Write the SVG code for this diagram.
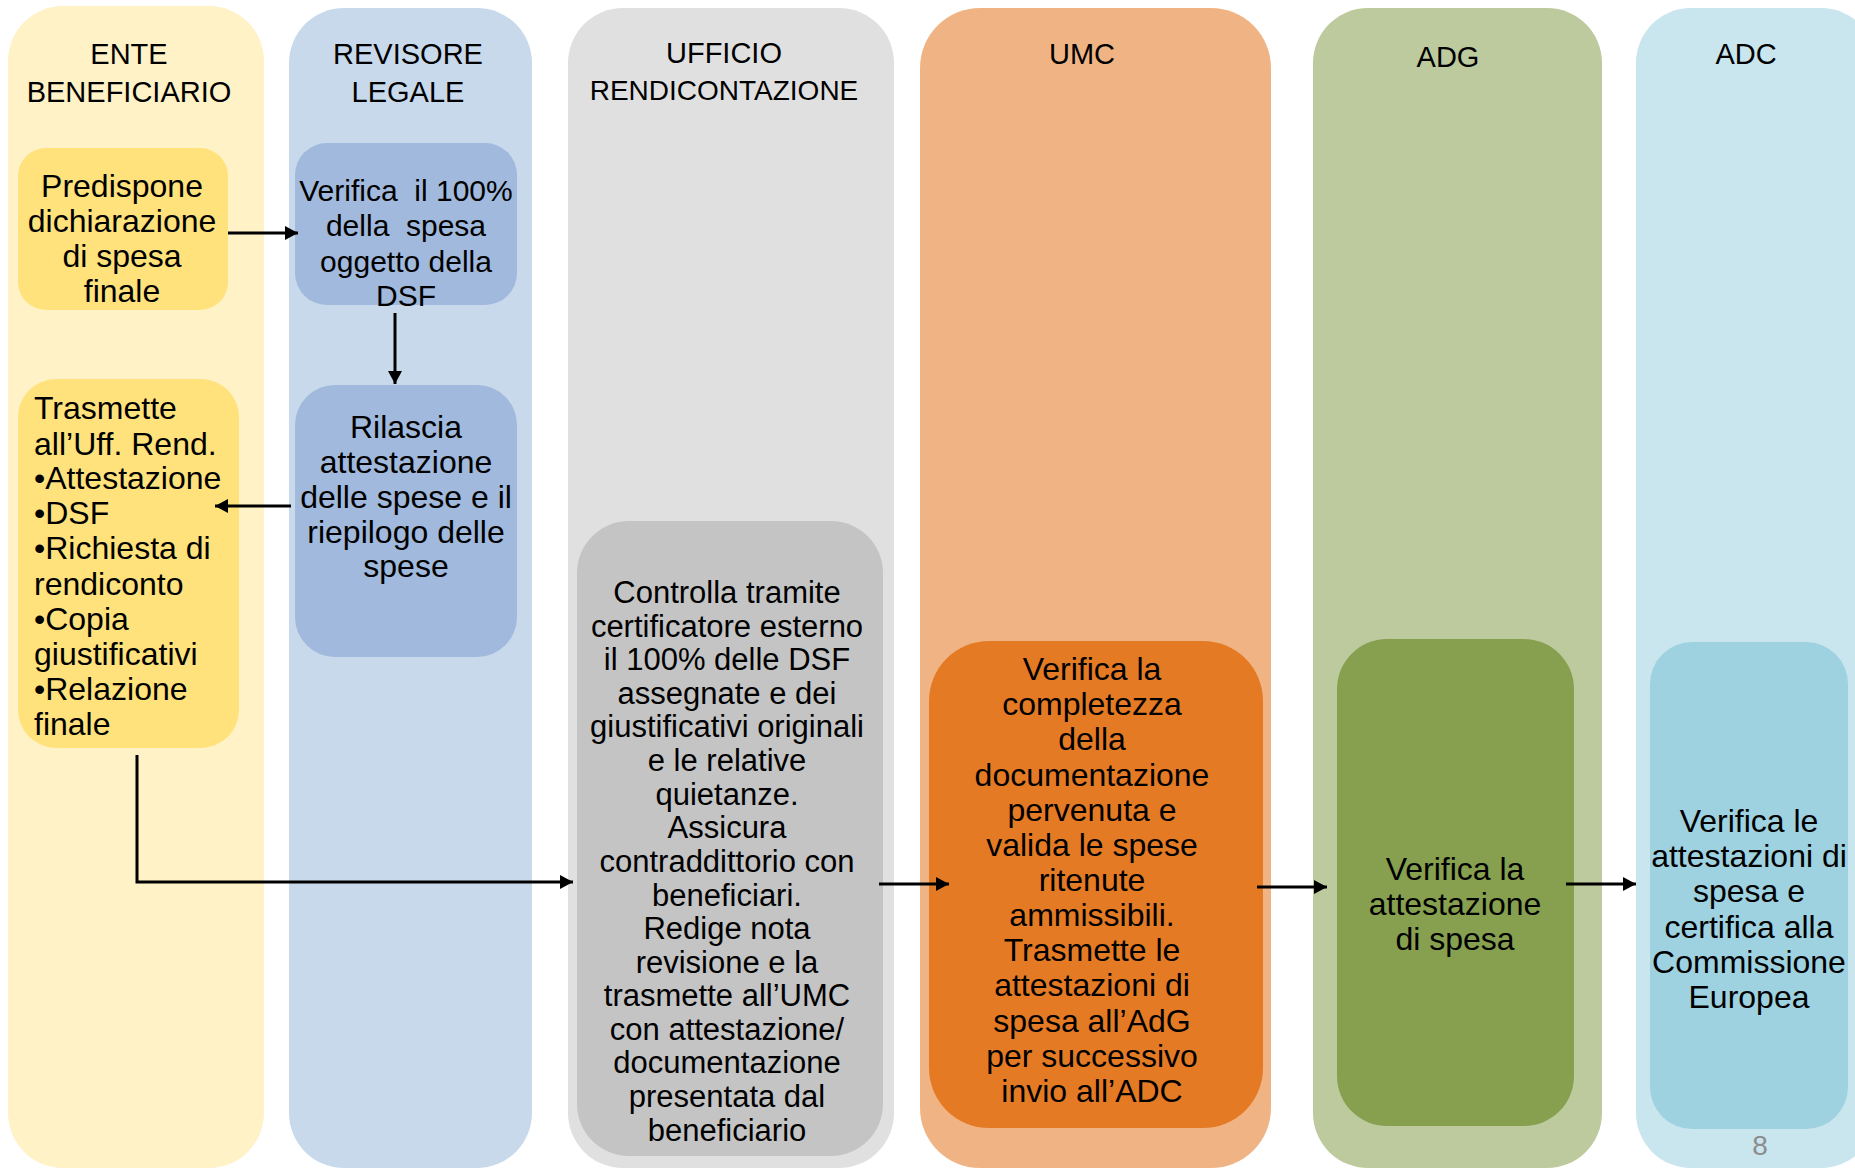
<svg xmlns="http://www.w3.org/2000/svg" width="1855" height="1168" viewBox="0 0 1855 1168">
<defs>
<style>
text{font-family:"Liberation Sans",Arial,sans-serif;fill:#000;}
.h{font-size:29px;text-anchor:middle;}
.t{font-size:32px;text-anchor:middle;}
.tl{font-size:32px;text-anchor:start;}
.tg{font-size:31px;text-anchor:middle;}
.c{fill:none;stroke:#000;stroke-width:3;marker-end:url(#ah);}
</style>
<marker id="ah" markerUnits="userSpaceOnUse" markerWidth="14" markerHeight="14" refX="13" refY="7" orient="auto">
<path d="M0,0 L13,7 L0,14 z" fill="#000"/>
</marker>
</defs>
<rect x="0" y="0" width="1855" height="1168" fill="#fff"/>

<g id="lanes">
<g id="lane-ente"><rect x="8" y="6" width="256" height="1162" rx="55" ry="55" fill="#FFF2C7"/>
<text class="h" x="129" y="64">ENTE</text><text class="h" x="129" y="102">BENEFICIARIO</text></g>
<g id="lane-revisore"><rect x="289" y="8" width="243" height="1160" rx="55" ry="55" fill="#C9D9EC"/>
<text class="h" x="408" y="64">REVISORE</text><text class="h" x="408" y="102">LEGALE</text></g>
<g id="lane-ufficio"><rect x="568" y="8" width="326" height="1160" rx="55" ry="55" fill="#E0E0E0"/>
<text class="h" x="724" y="63">UFFICIO</text><text class="h" x="724" y="100" style="font-size:28px">RENDICONTAZIONE</text></g>
<g id="lane-umc"><rect x="920" y="8" width="351" height="1160" rx="60" ry="60" fill="#F0B484"/>
<text class="h" x="1082" y="64">UMC</text></g>
<g id="lane-adg"><rect x="1313" y="8" width="289" height="1160" rx="55" ry="55" fill="#BDCA9E"/>
<text class="h" x="1448" y="67">ADG</text></g>
<g id="lane-adc"><rect x="1636" y="8" width="240" height="1160" rx="55" ry="55" fill="#C9E5EE"/>
<text class="h" x="1746" y="64">ADC</text></g>
</g>

<g id="n-predispone"><rect x="18" y="148" width="210" height="162" rx="28" fill="#FFE27B"/>
<text class="t" x="122"><tspan x="122" y="197">Predispone</tspan><tspan x="122" y="232">dichiarazione</tspan><tspan x="122" y="267">di spesa</tspan><tspan x="122" y="302">finale</tspan></text></g>

<g id="n-verifica100"><rect x="295" y="143" width="222" height="162" rx="32" fill="#A0B9DC"/>
<text class="t" x="406" xml:space="preserve" style="font-size:30px"><tspan x="406" y="201">Verifica  il 100%</tspan><tspan x="406" y="236">della  spesa</tspan><tspan x="406" y="272">oggetto della</tspan><tspan x="406" y="306">DSF</tspan></text></g>

<g id="n-rilascia"><rect x="295" y="385" width="222" height="272" rx="40" fill="#A0B9DC"/>
<text class="t" x="406"><tspan x="406" y="438">Rilascia</tspan><tspan x="406" y="473">attestazione</tspan><tspan x="406" y="508">delle spese e il</tspan><tspan x="406" y="543">riepilogo delle</tspan><tspan x="406" y="577">spese</tspan></text></g>

<g id="n-trasmette"><rect x="18" y="379" width="221" height="369" rx="38" fill="#FFE27B"/>
<text class="tl" x="34"><tspan x="34" y="419">Trasmette</tspan><tspan x="34" y="455">all’Uff. Rend.</tspan><tspan x="34" y="489">•Attestazione</tspan><tspan x="34" y="524">•DSF</tspan><tspan x="34" y="559">•Richiesta di</tspan><tspan x="34" y="595">rendiconto</tspan><tspan x="34" y="630">•Copia</tspan><tspan x="34" y="665">giustificativi</tspan><tspan x="34" y="700">•Relazione</tspan><tspan x="34" y="735">finale</tspan></text></g>

<g id="n-controlla"><rect x="577" y="521" width="306" height="635" rx="52" fill="#C4C4C4"/>
<text class="tg" x="727"><tspan x="727" y="603">Controlla tramite</tspan><tspan x="727" y="637">certificatore esterno</tspan><tspan x="727" y="670">il 100% delle DSF</tspan><tspan x="727" y="704">assegnate e dei</tspan><tspan x="727" y="737">giustificativi originali</tspan><tspan x="727" y="771">e le relative</tspan><tspan x="727" y="805">quietanze.</tspan><tspan x="727" y="838">Assicura</tspan><tspan x="727" y="872">contraddittorio con</tspan><tspan x="727" y="906">beneficiari.</tspan><tspan x="727" y="939">Redige nota</tspan><tspan x="727" y="973">revisione e la</tspan><tspan x="727" y="1006">trasmette all’UMC</tspan><tspan x="727" y="1040">con attestazione/</tspan><tspan x="727" y="1073">documentazione</tspan><tspan x="727" y="1107">presentata dal</tspan><tspan x="727" y="1141">beneficiario</tspan></text></g>

<g id="n-umc"><rect x="929" y="641" width="334" height="487" rx="60" fill="#E57A24"/>
<text class="t" x="1092"><tspan x="1092" y="680">Verifica la</tspan><tspan x="1092" y="715">completezza</tspan><tspan x="1092" y="750">della</tspan><tspan x="1092" y="786">documentazione</tspan><tspan x="1092" y="821">pervenuta e</tspan><tspan x="1092" y="856">valida le spese</tspan><tspan x="1092" y="891">ritenute</tspan><tspan x="1092" y="926">ammissibili.</tspan><tspan x="1092" y="961">Trasmette le</tspan><tspan x="1092" y="996">attestazioni di</tspan><tspan x="1092" y="1032">spesa all’AdG</tspan><tspan x="1092" y="1067">per successivo</tspan><tspan x="1092" y="1102">invio all’ADC</tspan></text></g>

<g id="n-adg"><rect x="1337" y="639" width="237" height="487" rx="50" fill="#87A04F"/>
<text class="t" x="1455"><tspan x="1455" y="880">Verifica la</tspan><tspan x="1455" y="915">attestazione</tspan><tspan x="1455" y="950">di spesa</tspan></text></g>

<g id="n-adc"><rect x="1650" y="642" width="198" height="487" rx="42" fill="#9ED2E0"/>
<text class="t" x="1749"><tspan x="1749" y="832">Verifica le</tspan><tspan x="1749" y="867">attestazioni di</tspan><tspan x="1749" y="902">spesa e</tspan><tspan x="1749" y="938">certifica alla</tspan><tspan x="1749" y="973">Commissione</tspan><tspan x="1749" y="1008">Europea</tspan></text></g>

<g id="connectors">
<path class="c" d="M228,233 H298"/>
<path class="c" d="M395,313 V384"/>
<path class="c" d="M291,506 H215"/>
<path class="c" d="M137,755 V882 H573"/>
<path class="c" d="M879,884 H949"/>
<path class="c" d="M1257,887 H1327"/>
<path class="c" d="M1566,884 H1636"/>
</g>

<text x="1760" y="1155" style="font-size:28px;text-anchor:middle;fill:#8C8C8C">8</text>
</svg>
